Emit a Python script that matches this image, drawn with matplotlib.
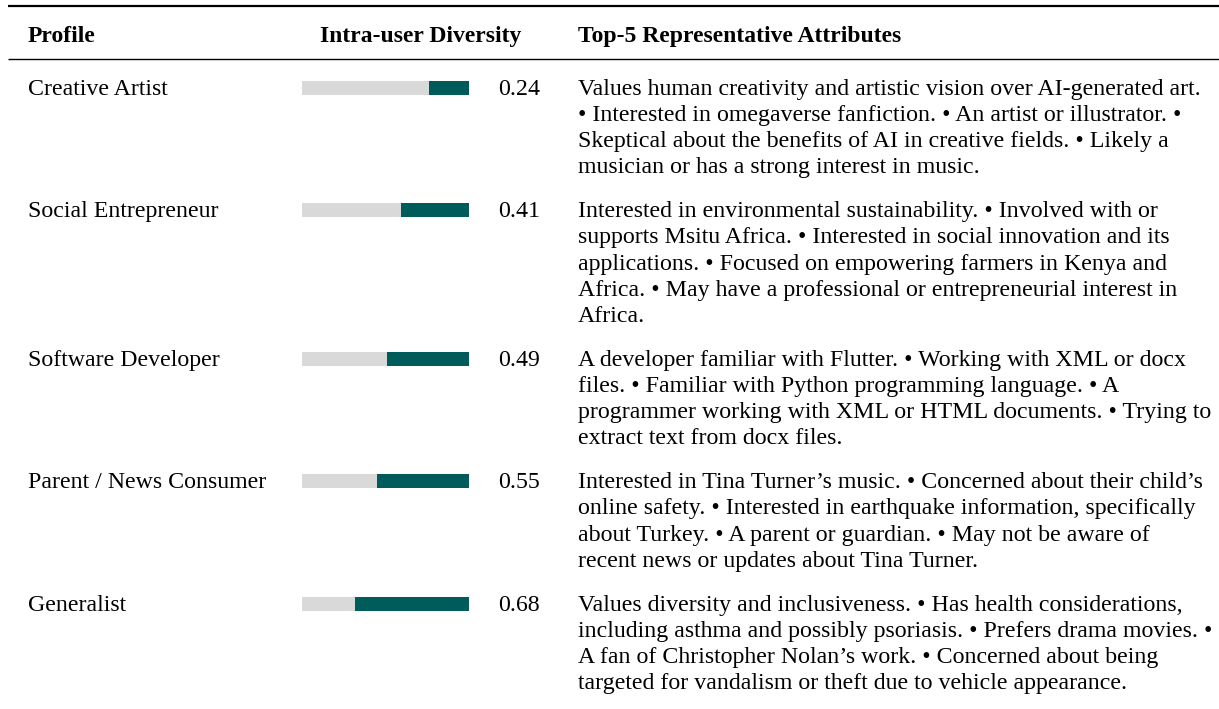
import matplotlib.pyplot as plt

plt.rcParams['font.family'] = ['Liberation Serif', 'DejaVu Serif']

profiles = ["Creative Artist", "Social Entrepreneur", "Software Developer",
            "Parent / News Consumer", "Generalist"]
diversity = [0.24, 0.41, 0.49, 0.55, 0.68]
attributes = [
    ["Values human creativity and artistic vision over AI-generated art.",
     "\u2022 Interested in omegaverse fanfiction. \u2022 An artist or illustrator. \u2022",
     "Skeptical about the benefits of AI in creative fields. \u2022 Likely a",
     "musician or has a strong interest in music."],
    ["Interested in environmental sustainability. \u2022 Involved with or",
     "supports Msitu Africa. \u2022 Interested in social innovation and its",
     "applications. \u2022 Focused on empowering farmers in Kenya and",
     "Africa. \u2022 May have a professional or entrepreneurial interest in",
     "Africa."],
    ["A developer familiar with Flutter. \u2022 Working with XML or docx",
     "files. \u2022 Familiar with Python programming language. \u2022 A",
     "programmer working with XML or HTML documents. \u2022 Trying to",
     "extract text from docx files."],
    ["Interested in Tina Turner\u2019s music. \u2022 Concerned about their child\u2019s",
     "online safety. \u2022 Interested in earthquake information, specifically",
     "about Turkey. \u2022 A parent or guardian. \u2022 May not be aware of",
     "recent news or updates about Tina Turner."],
    ["Values diversity and inclusiveness. \u2022 Has health considerations,",
     "including asthma and possibly psoriasis. \u2022 Prefers drama movies. \u2022",
     "A fan of Christopher Nolan\u2019s work. \u2022 Concerned about being",
     "targeted for vandalism or theft due to vehicle appearance."],
]
headers = ["Profile", "Intra-user Diversity", "Top-5 Representative Attributes"]

W, H = 1219, 709
fs = 17.2
fs_head = 17
line_h = 26.1
row_gap = 18
dark = "#005b5b"
light = "#d9d9d9"

fig = plt.figure(figsize=(W / 100, H / 100), dpi=100)
ax = fig.add_axes([0, 0, 1, 1])
ax.set_xlim(0, W)
ax.set_ylim(H, 0)
ax.axis("off")

# rules
ax.plot([8, W], [6, 6], color="black", lw=1.6, solid_capstyle="butt")
ax.plot([8, W], [59, 59], color="black", lw=1.0, solid_capstyle="butt")

# header
hy = 42
ax.text(28, hy, headers[0], fontsize=fs_head, fontweight="bold", va="baseline")
ax.text(421, hy, headers[1], fontsize=fs_head, fontweight="bold", va="baseline", ha="center")
ax.text(578, hy, headers[2], fontsize=fs_head, fontweight="bold", va="baseline")

# row baselines
ys = []
y = 95
for lines in attributes:
    ys.append(y)
    y += len(lines) * line_h + row_gap

# bar column in its own axes, x in [0, 1]
bx0, bx1 = 302, 469
bax = fig.add_axes([bx0 / W, 0, (bx1 - bx0) / W, 1])
bax.set_xlim(0, 1)
bax.set_ylim(H, 0)
bax.axis("off")
bar_h = 14
centers = [v - bar_h / 2 for v in ys]
bax.barh(centers, [1] * len(diversity), height=bar_h, color=light, left=0)
bax.barh(centers, diversity, height=bar_h, color=dark,
         left=[1 - d for d in diversity])

for name, d, lines, yb in zip(profiles, diversity, attributes, ys):
    ax.text(28, yb, name, fontsize=fs, va="baseline")
    ax.text(540, yb, f"{d:.2f}", fontsize=fs, va="baseline", ha="right")
    for i, ln in enumerate(lines):
        ax.text(578, yb + i * line_h, ln, fontsize=fs, va="baseline")

fig.savefig("out.png", dpi=100)
